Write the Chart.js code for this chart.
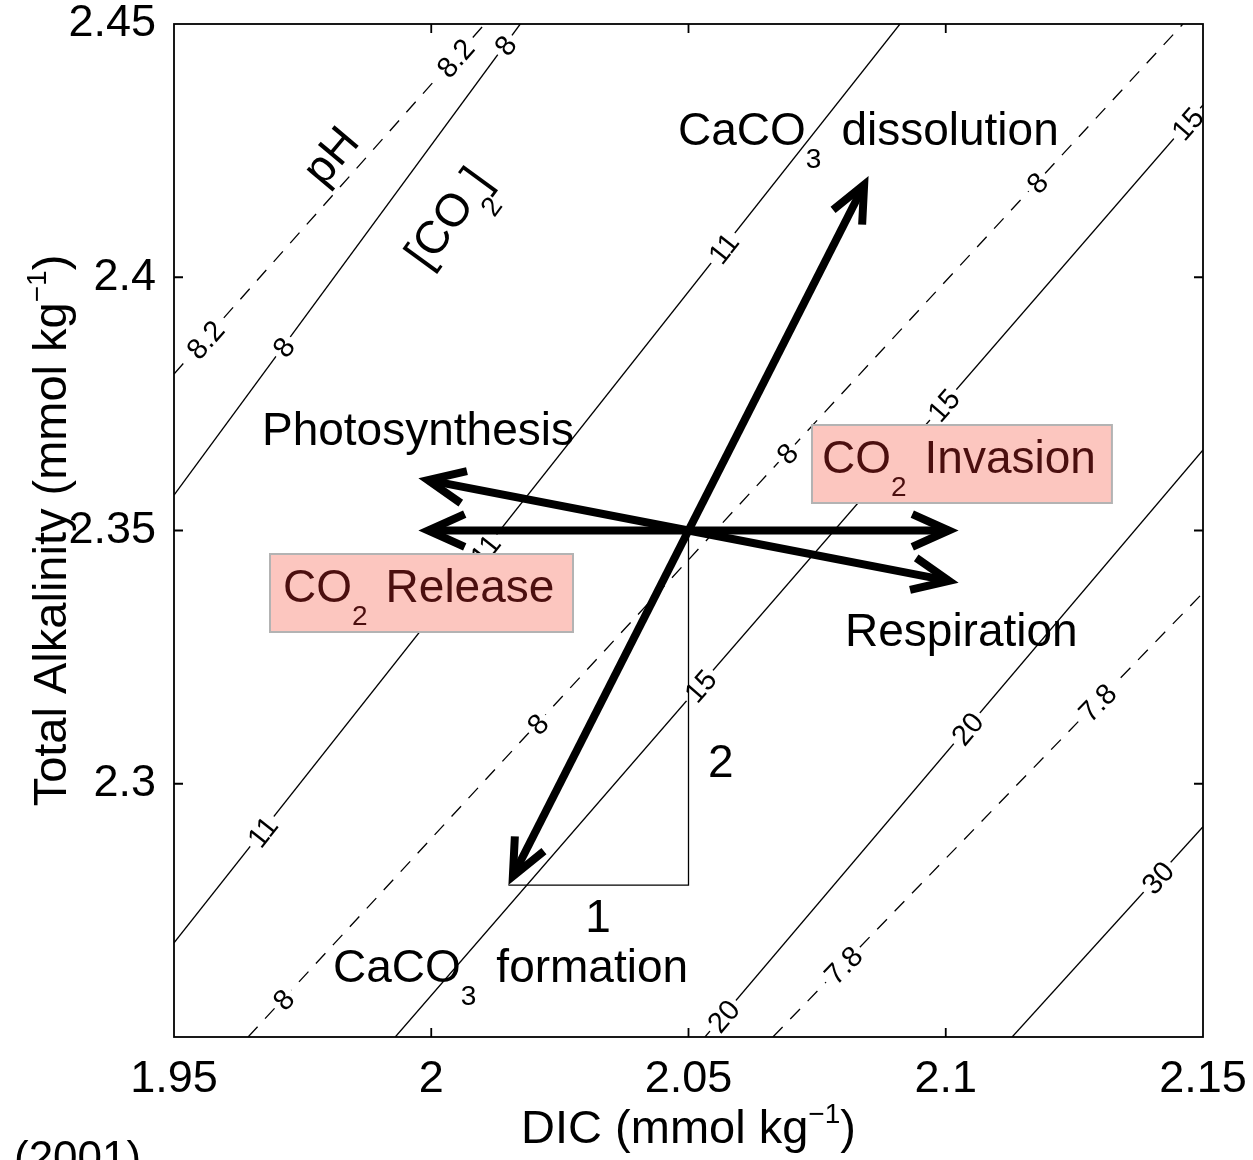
<!DOCTYPE html>
<html>
<head>
<meta charset="utf-8">
<script src="https://cdn.jsdelivr.net/npm/chart.js@4.4.1/dist/chart.umd.min.js"></script>
<style>
  html, body { margin: 0; padding: 0; background: #fff; }
  canvas { display: block; }
</style>
</head>
<body>
<canvas id="dicChart" width="1253" height="1160"></canvas>
<script>
const FONT = '"Liberation Sans", Arial, Helvetica, sans-serif';

// axis ticks
const dicTicks = [1.95, 2, 2.05, 2.1, 2.15];
const dicTickLabels = ['1.95', '2', '2.05', '2.1', '2.15'];
const taTicks = [2.25, 2.3, 2.35, 2.4, 2.45];
const taTickLabels = ['', '2.3', '2.35', '2.4', '2.45'];

// [CO2] contours (solid), end points as DIC / TA
const co2Levels = ['8', '11', '15', '20', '30'];
const co2Dic = [[1.95, 2.0173], [1.95, 2.0911], [1.993, 2.15], [2.0532, 2.15], [2.1129, 2.15]];
const co2Ta = [[2.357, 2.45], [2.2686, 2.45], [2.25, 2.434], [2.25, 2.3659], [2.25, 2.2915]];
const co2LabelDic = [[1.9712, 2.0143], [1.9671, 2.0104, 2.0567], [2.0522, 2.0995, 2.1469], [2.0567, 2.1041], [2.1411]];

// pH contours (dashed)
const phLevels = ['8.2', '8', '7.8'];
const phDic = [[1.95, 2.0104], [1.9644, 2.1461], [2.0664, 2.15]];
const phTa = [[2.3809, 2.45], [2.25, 2.45], [2.25, 2.3377]];
const phLabelDic = [[1.956, 2.0046], [1.9712, 2.0206, 2.0691, 2.1177], [2.08, 2.1294]];

// process vectors from the starting water
const startDic = 2.05;
const startTa = 2.35;
const processNames = ['CaCO3 dissolution', 'CaCO3 formation', 'CO2 invasion', 'CO2 release', 'Photosynthesis', 'Respiration'];
const processTipDic = [2.085, 2.015, 2.1025, 1.9975, 1.9975, 2.1025];
const processTipTa = [2.42, 2.28, 2.35, 2.35, 2.3603, 2.3397];

// 1 : 2 triangle under the CaCO3 vector
const stoichDic = [2.015, 2.05, 2.05];
const stoichTa = [2.28, 2.28, 2.35];

// text annotations, anchored in data units (left/baseline unless centred)
const notes = [
  { at: [2.04796, 2.42611], parts: [['CaCO'], ['3', 'sub'], 20, ['dissolution']] },
  { at: [1.96710, 2.36688], parts: [['Photosynthesis']] },
  { at: [2.08042, 2.32720], parts: [['Respiration']] },
  { at: [1.98090, 2.26086], parts: [['CaCO'], ['3', 'sub'], 20, ['formation']] },
  { at: [2.03241, 2.27073], parts: [['1']], centre: true },
  { at: [2.05379, 2.30133], parts: [['2']] },
  { at: [1.98032, 2.42414], parts: [['pH']], angle: -50, centre: true },
  { at: [2.00306, 2.41190], parts: [['[CO'], ['2', 'sub'], [']']], angle: -54, centre: true }
];
const boxes = [
  { rect: [2.0740, 2.37083, 2.1323, 2.35543], at: [2.07595, 2.36135], parts: [['CO'], ['2', 'sub'], 18, ['Invasion']] },
  { rect: [1.96866, 2.34536, 2.02755, 2.32996], at: [1.97119, 2.33588], parts: [['CO'], ['2', 'sub'], 18, ['Release']] }
];

const NOTE_SIZE = 46;
const TITLE_SIZE = 47;

function richText(ctx, parts, x, y, size, draw) {
  let cx = x;
  parts.forEach(p => {
    if (typeof p === 'number') { cx += p; return; }
    const [txt, kind] = p;
    const s = kind ? Math.round(size * 0.6) : size;
    const dy = kind === 'sub' ? size * 0.5 : kind === 'sup' ? -size * 0.42 : 0;
    ctx.font = s + 'px ' + FONT;
    if (draw) ctx.fillText(txt, cx, y + dy);
    cx += ctx.measureText(txt).width;
  });
  return cx - x;
}

function drawArrow(ctx, x0, y0, x1, y1) {
  const ang = Math.atan2(y1 - y0, x1 - x0);
  const spread = 0.42, wing = 40, w = 8;
  // pull the vertex back so the mitred point lands on the tip
  const back = (w / 2) / Math.sin(spread);
  const vx = x1 - back * Math.cos(ang), vy = y1 - back * Math.sin(ang);
  ctx.lineWidth = w;
  ctx.lineCap = 'butt';
  ctx.lineJoin = 'miter';
  ctx.miterLimit = 10;
  ctx.beginPath();
  ctx.moveTo(x0, y0);
  ctx.lineTo(vx, vy);
  ctx.stroke();
  ctx.beginPath();
  ctx.moveTo(vx - wing * Math.cos(ang - spread), vy - wing * Math.sin(ang - spread));
  ctx.lineTo(vx, vy);
  ctx.lineTo(vx - wing * Math.cos(ang + spread), vy - wing * Math.sin(ang + spread));
  ctx.stroke();
}

function labelContour(ctx, text, dic, ta, at, px, py) {
  const x0 = px(dic[0]), y0 = py(ta[0]), x1 = px(dic[1]), y1 = py(ta[1]);
  const ang = Math.atan2(y1 - y0, x1 - x0);
  ctx.font = '29px ' + FONT;
  const tw = ctx.measureText(text).width;
  at.forEach(d => {
    const t = (d - dic[0]) / (dic[1] - dic[0]);
    ctx.save();
    ctx.translate(x0 + t * (x1 - x0), y0 + t * (y1 - y0));
    ctx.rotate(ang);
    ctx.fillStyle = '#fff';
    ctx.fillRect(-tw / 2 - 4, -12, tw + 8, 24);
    ctx.fillStyle = '#000';
    ctx.textAlign = 'center';
    ctx.textBaseline = 'alphabetic';
    ctx.fillText(text, 0, 10.5);
    ctx.restore();
  });
}

const overlay = {
  id: 'overlay',
  afterDatasetsDraw(chart) {
    const { ctx, chartArea: area, scales: { x, y } } = chart;
    const px = v => x.getPixelForValue(v);
    const py = v => y.getPixelForValue(v);

    // contour labels sit in gaps cut out of their lines
    ctx.save();
    ctx.beginPath();
    ctx.rect(area.left, area.top, area.width, area.height);
    ctx.clip();
    co2Levels.forEach((lev, i) => labelContour(ctx, lev, co2Dic[i], co2Ta[i], co2LabelDic[i], px, py));
    phLevels.forEach((lev, i) => labelContour(ctx, lev, phDic[i], phTa[i], phLabelDic[i], px, py));
    ctx.restore();

    ctx.save();
    ctx.strokeStyle = '#000';
    ctx.lineWidth = 1.3;
    ctx.beginPath();
    stoichDic.forEach((d, i) => {
      if (i === 0) ctx.moveTo(px(d), py(stoichTa[i]));
      else ctx.lineTo(px(d), py(stoichTa[i]));
    });
    ctx.stroke();

    processTipDic.forEach((d, i) => drawArrow(ctx, px(startDic), py(startTa), px(d), py(processTipTa[i])));

    ctx.fillStyle = '#000';
    ctx.textBaseline = 'alphabetic';
    ctx.textAlign = 'left';
    notes.forEach(n => {
      const w = richText(ctx, n.parts, 0, 0, NOTE_SIZE, false);
      ctx.save();
      ctx.translate(px(n.at[0]), py(n.at[1]));
      if (n.angle) ctx.rotate(n.angle * Math.PI / 180);
      if (n.centre) richText(ctx, n.parts, -w / 2, n.angle ? 16 : 0, NOTE_SIZE, true);
      else richText(ctx, n.parts, 0, 0, NOTE_SIZE, true);
      ctx.restore();
    });

    boxes.forEach(b => {
      const bx = px(b.rect[0]), by = py(b.rect[1]);
      const bw = px(b.rect[2]) - bx, bh = py(b.rect[3]) - by;
      ctx.fillStyle = '#fcc6bf';
      ctx.fillRect(bx, by, bw, bh);
      ctx.strokeStyle = '#b3b3b3';
      ctx.lineWidth = 2;
      ctx.strokeRect(bx, by, bw, bh);
      ctx.fillStyle = '#4b0f0f';
      richText(ctx, b.parts, px(b.at[0]), py(b.at[1]), NOTE_SIZE, true);
    });
    ctx.restore();
  },
  afterDraw(chart) {
    const { ctx, chartArea: area, scales: { x, y } } = chart;
    ctx.save();
    ctx.strokeStyle = '#000';
    ctx.lineWidth = 1.8;
    ctx.strokeRect(area.left, area.top, area.width, area.height);

    // inward ticks on all four sides
    const tl = 9;
    ctx.beginPath();
    dicTicks.slice(1, -1).forEach(v => {
      const p = x.getPixelForValue(v);
      ctx.moveTo(p, area.bottom); ctx.lineTo(p, area.bottom - tl);
      ctx.moveTo(p, area.top); ctx.lineTo(p, area.top + tl);
    });
    taTicks.slice(1, -1).forEach(v => {
      const p = y.getPixelForValue(v);
      ctx.moveTo(area.left, p); ctx.lineTo(area.left + tl, p);
      ctx.moveTo(area.right, p); ctx.lineTo(area.right - tl, p);
    });
    ctx.stroke();

    // axis titles
    ctx.fillStyle = '#000';
    ctx.textBaseline = 'alphabetic';
    const xTitle = [['DIC (mmol kg'], ['\u22121', 'sup'], [')']];
    const xw = richText(ctx, xTitle, 0, 0, TITLE_SIZE, false);
    richText(ctx, xTitle, (area.left + area.right) / 2 - xw / 2, 1143, TITLE_SIZE, true);

    const yTitle = [['Total Alkalinity (mmol kg'], ['\u22121', 'sup'], [')']];
    const yw = richText(ctx, yTitle, 0, 0, TITLE_SIZE, false);
    ctx.save();
    ctx.translate(66, (area.top + area.bottom) / 2);
    ctx.rotate(-Math.PI / 2);
    richText(ctx, yTitle, -yw / 2, 0, TITLE_SIZE, true);
    ctx.restore();

    ctx.font = '44px ' + FONT;
    ctx.fillText('(2001)', 14, 1172);
    ctx.restore();
  }
};

const datasets = [];
co2Levels.forEach((lev, i) => datasets.push({
  label: '[CO2] ' + lev,
  data: co2Dic[i].map((d, k) => ({ x: d, y: co2Ta[i][k] })),
  showLine: true,
  borderColor: '#000',
  borderWidth: 1.3,
  pointRadius: 0
}));
phLevels.forEach((lev, i) => datasets.push({
  label: 'pH ' + lev,
  data: phDic[i].map((d, k) => ({ x: d, y: phTa[i][k] })),
  showLine: true,
  borderColor: '#000',
  borderWidth: 1.3,
  borderDash: [14, 11],
  pointRadius: 0
}));

const tickFont = { family: FONT, size: 45 };

new Chart(document.getElementById('dicChart'), {
  type: 'scatter',
  data: { datasets },
  options: {
    responsive: false,
    animation: false,
    devicePixelRatio: 1,
    events: [],
    layout: { padding: { top: 24, right: 50, left: 0, bottom: 0 } },
    plugins: { legend: { display: false }, tooltip: { enabled: false } },
    scales: {
      x: {
        type: 'linear',
        min: 1.95,
        max: 2.15,
        grid: { display: false },
        border: { display: false },
        afterBuildTicks: s => { s.ticks = dicTicks.map(v => ({ value: v })); },
        afterFit: s => { s.height = 123; s.paddingLeft = 0; s.paddingRight = 0; },
        ticks: {
          padding: 8,
          color: '#000',
          font: tickFont,
          maxRotation: 0,
          autoSkip: false,
          callback: (v, i) => dicTickLabels[i]
        }
      },
      y: {
        type: 'linear',
        min: 2.25,
        max: 2.45,
        grid: { display: false },
        border: { display: false },
        afterBuildTicks: s => { s.ticks = taTicks.map(v => ({ value: v })); },
        afterFit: s => { s.width = 174; s.paddingTop = 0; s.paddingBottom = 0; },
        ticks: {
          padding: 10,
          color: '#000',
          font: tickFont,
          autoSkip: false,
          callback: (v, i) => taTickLabels[i]
        }
      }
    }
  },
  plugins: [overlay]
});
</script>
</body>
</html>
